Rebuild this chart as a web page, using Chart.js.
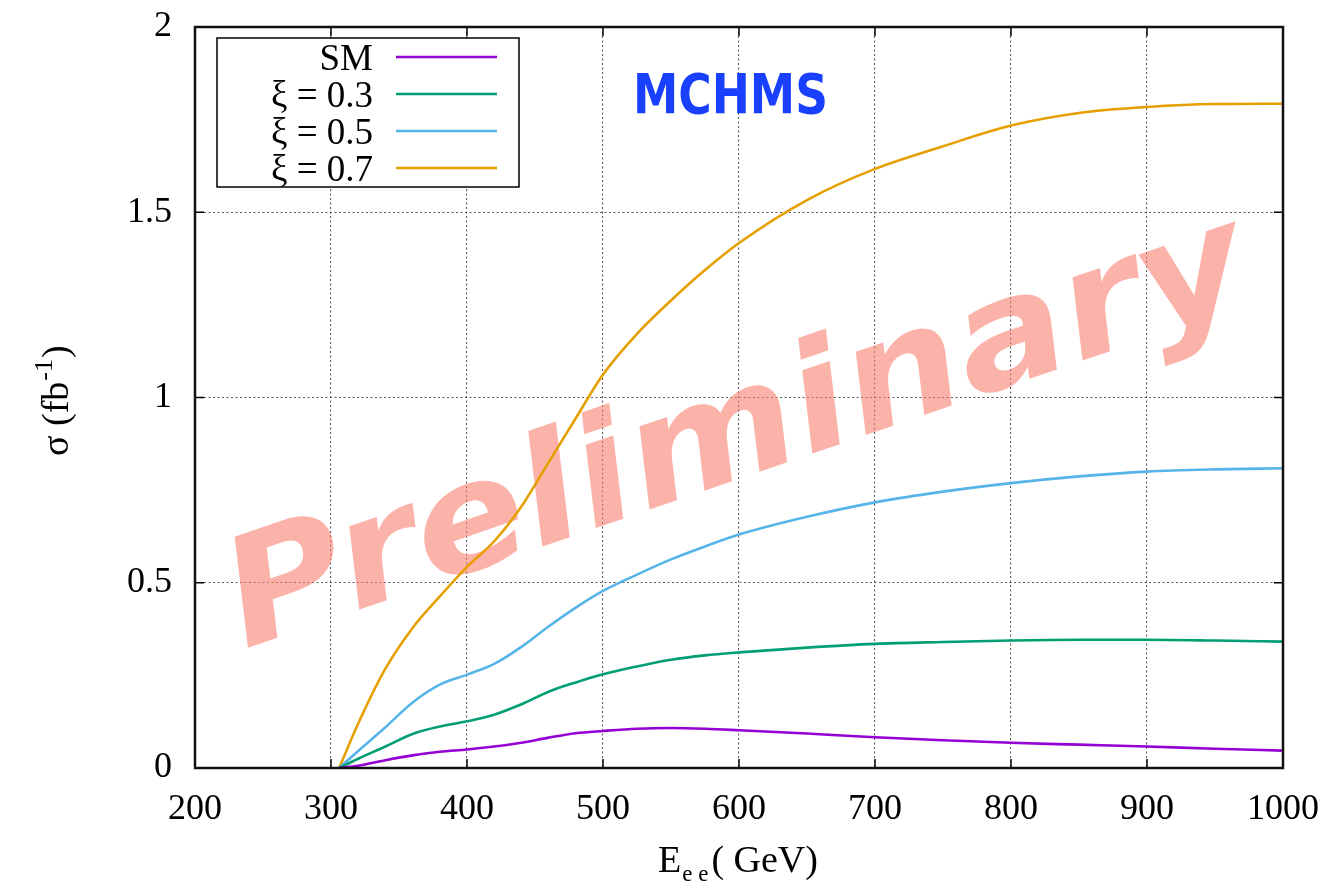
<!DOCTYPE html>
<html>
<head>
<meta charset="utf-8">
<script src="https://cdn.jsdelivr.net/npm/chart.js@4/dist/chart.umd.min.js"></script>
<style>
  html, body { margin: 0; padding: 0; background: #ffffff; }
  #wrap { width: 1338px; height: 886px; position: relative; }
</style>
</head>
<body>
<div id="wrap"><canvas id="c" width="1338" height="886"></canvas></div>
<script>
// Centre-of-mass energy grid (GeV)
const energies = [306, 320, 340, 360, 380, 400, 420, 440, 460, 480, 500, 525, 550, 575, 600, 650, 700, 750, 800, 850, 900, 950, 1000];

// Cross sections sigma (fb^-1) for each scenario
const sigmaSM   = [0, 0.006, 0.021, 0.034, 0.044, 0.050, 0.058, 0.068, 0.082, 0.094, 0.100, 0.106, 0.108, 0.106, 0.102, 0.093, 0.083, 0.075, 0.068, 0.063, 0.058, 0.052, 0.047];
const sigmaXi03 = [0, 0.025, 0.058, 0.092, 0.112, 0.126, 0.144, 0.172, 0.206, 0.231, 0.253, 0.274, 0.292, 0.304, 0.312, 0.325, 0.335, 0.340, 0.344, 0.346, 0.346, 0.344, 0.341];
const sigmaXi05 = [0, 0.046, 0.110, 0.177, 0.225, 0.252, 0.281, 0.327, 0.382, 0.433, 0.478, 0.522, 0.563, 0.598, 0.630, 0.678, 0.717, 0.746, 0.769, 0.787, 0.800, 0.806, 0.809];
const sigmaXi07 = [0, 0.120, 0.268, 0.378, 0.463, 0.543, 0.612, 0.706, 0.825, 0.944, 1.062, 1.172, 1.262, 1.344, 1.417, 1.533, 1.617, 1.678, 1.734, 1.768, 1.784, 1.792, 1.793];

const seriesLabels = ["SM", "ξ = 0.3", "ξ = 0.5", "ξ = 0.7"];
const seriesColors = ["#9400d3", "#009e73", "#56b4e9", "#e69f00"];

const xTickValues = [200, 300, 400, 500, 600, 700, 800, 900, 1000];
const yTickLabels = ["0", "0.5", "1", "1.5", "2"];
const yTickValues = [0, 0.5, 1, 1.5, 2];

const serif = '"Liberation Serif", "Times New Roman", serif';

function pts(ys) { return energies.map((e, i) => ({ x: e, y: ys[i] })); }
const seriesData = [sigmaSM, sigmaXi03, sigmaXi05, sigmaXi07];

const datasets = seriesData.map((ys, i) => ({
  label: seriesLabels[i],
  data: pts(ys),
  borderColor: seriesColors[i],
  backgroundColor: seriesColors[i],
  borderWidth: 2.6,
  pointRadius: 0,
  cubicInterpolationMode: 'monotone',
  fill: false
}));

// Watermark + tag drawn behind the curves
const backdrop = {
  id: 'backdrop',
  beforeDatasetsDraw(chart) {
    const ctx = chart.ctx;
    // "Preliminary" stamp
    ctx.save();
    ctx.translate(738, 438);
    ctx.rotate(-19 * Math.PI / 180);
    ctx.font = 'italic bold 150px "DejaVu Sans"';
    ctx.textAlign = 'center';
    ctx.textBaseline = 'middle';
    const w = ctx.measureText('Preliminary').width;
    ctx.scale(1070 / w, 1.0);
    ctx.fillStyle = 'rgba(249,128,112,0.6)';
    ctx.fillText('Preliminary', 0, 0);
    ctx.restore();

    // model tag
    ctx.save();
    ctx.font = 'bold 56px "DejaVu Sans"';
    ctx.textAlign = 'left';
    ctx.textBaseline = 'alphabetic';
    const tw = ctx.measureText('MCHMS').width;
    ctx.translate(633, 113);
    ctx.scale(195 / tw, 1);
    ctx.fillStyle = '#1a40ff';
    ctx.fillText('MCHMS', 0, 0);
    ctx.restore();
  }
};

// Frame, mirrored inward ticks, legend and axis titles
const frame = {
  id: 'frame',
  afterDatasetsDraw(chart) {
    const ctx = chart.ctx;
    const a = chart.chartArea;
    const xs = chart.scales.x, ys = chart.scales.y;
    const tl = 9;
    ctx.save();
    ctx.strokeStyle = '#000';
    ctx.lineWidth = 1.5;
    ctx.beginPath();
    xTickValues.forEach(v => {
      const px = xs.getPixelForValue(v);
      ctx.moveTo(px, a.bottom); ctx.lineTo(px, a.bottom - tl);
      ctx.moveTo(px, a.top); ctx.lineTo(px, a.top + tl);
    });
    yTickValues.forEach(v => {
      const py = ys.getPixelForValue(v);
      ctx.moveTo(a.left, py); ctx.lineTo(a.left + tl, py);
      ctx.moveTo(a.right, py); ctx.lineTo(a.right - tl, py);
    });
    ctx.stroke();
    ctx.lineWidth = 2.5;
    ctx.strokeStyle = '#111';
    ctx.strokeRect(a.left, a.top, a.right - a.left, a.bottom - a.top);

    // legend
    const lx0 = 217, ly0 = 38, lx1 = 519, ly1 = 187;
    ctx.fillStyle = '#fff';
    ctx.fillRect(lx0, ly0, lx1 - lx0, ly1 - ly0);
    ctx.lineWidth = 1.5;
    ctx.strokeStyle = '#000';
    ctx.strokeRect(lx0, ly0, lx1 - lx0, ly1 - ly0);
    const rows = [57, 94, 131, 168];
    ctx.font = '37px ' + serif;
    ctx.textAlign = 'right';
    ctx.textBaseline = 'alphabetic';
    chart.data.datasets.forEach((ds, i) => {
      const y = rows[i];
      ctx.fillStyle = '#000';
      ctx.fillText(ds.label, 373, y + 13);
      ctx.strokeStyle = ds.borderColor;
      ctx.lineWidth = 2.6;
      ctx.beginPath();
      ctx.moveTo(396, y); ctx.lineTo(497, y);
      ctx.stroke();
    });

    // x-axis title: E_{e e} ( GeV)
    ctx.fillStyle = '#000';
    ctx.textAlign = 'left';
    const base = 872;
    let x = 658;
    ctx.font = '38px ' + serif;
    ctx.fillText('E', x, base); x += ctx.measureText('E').width + 1;
    ctx.font = '23px ' + serif;
    ctx.fillText('e e', x, base + 9); x += ctx.measureText('e e').width + 3;
    ctx.font = '38px ' + serif;
    ctx.fillText('( GeV)', x, base);

    // y-axis title: sigma (fb^-1)
    ctx.save();
    ctx.translate(68, 456);
    ctx.rotate(-Math.PI / 2);
    ctx.font = '38px ' + serif;
    let t = 0;
    ctx.fillText('σ (fb', t, 0); t += ctx.measureText('σ (fb').width + 1;
    ctx.font = '26px ' + serif;
    ctx.fillText('-1', t, -16); t += ctx.measureText('-1').width + 1;
    ctx.font = '38px ' + serif;
    ctx.fillText(')', t, 0);
    ctx.restore();
    ctx.restore();
  }
};

new Chart(document.getElementById('c'), {
  type: 'line',
  data: { datasets },
  options: {
    responsive: false,
    animation: false,
    layout: { padding: { left: 0, right: 55, top: 27, bottom: 0 } },
    plugins: { legend: { display: false }, tooltip: { enabled: false } },
    scales: {
      x: {
        type: 'linear', min: 200, max: 1000,
        afterFit(s) { s.height = 118; s.paddingLeft = 0; s.paddingRight = 0; },
        afterBuildTicks(s) { s.ticks = xTickValues.map(v => ({ value: v })); },
        ticks: { font: { family: serif, size: 36 }, color: '#000', padding: 20, maxRotation: 0,
                 callback: v => String(v) },
        grid: { color: 'rgba(50,50,50,0.8)', lineWidth: 1.1, drawTicks: false, tickLength: 0 },
        border: { display: false, dash: [2, 2.5] }
      },
      y: {
        type: 'linear', min: 0, max: 2,
        afterFit(s) { s.width = 195; s.paddingTop = 0; s.paddingBottom = 0; },
        afterBuildTicks(s) { s.ticks = yTickValues.map(v => ({ value: v })); },
        ticks: { font: { family: serif, size: 36 }, color: '#000', padding: 23,
                 callback: v => yTickLabels[yTickValues.indexOf(v)] },
        grid: { color: 'rgba(50,50,50,0.8)', lineWidth: 1.1, drawTicks: false, tickLength: 0 },
        border: { display: false, dash: [2, 2.5] }
      }
    }
  },
  plugins: [backdrop, frame]
});
</script>
</body>
</html>
